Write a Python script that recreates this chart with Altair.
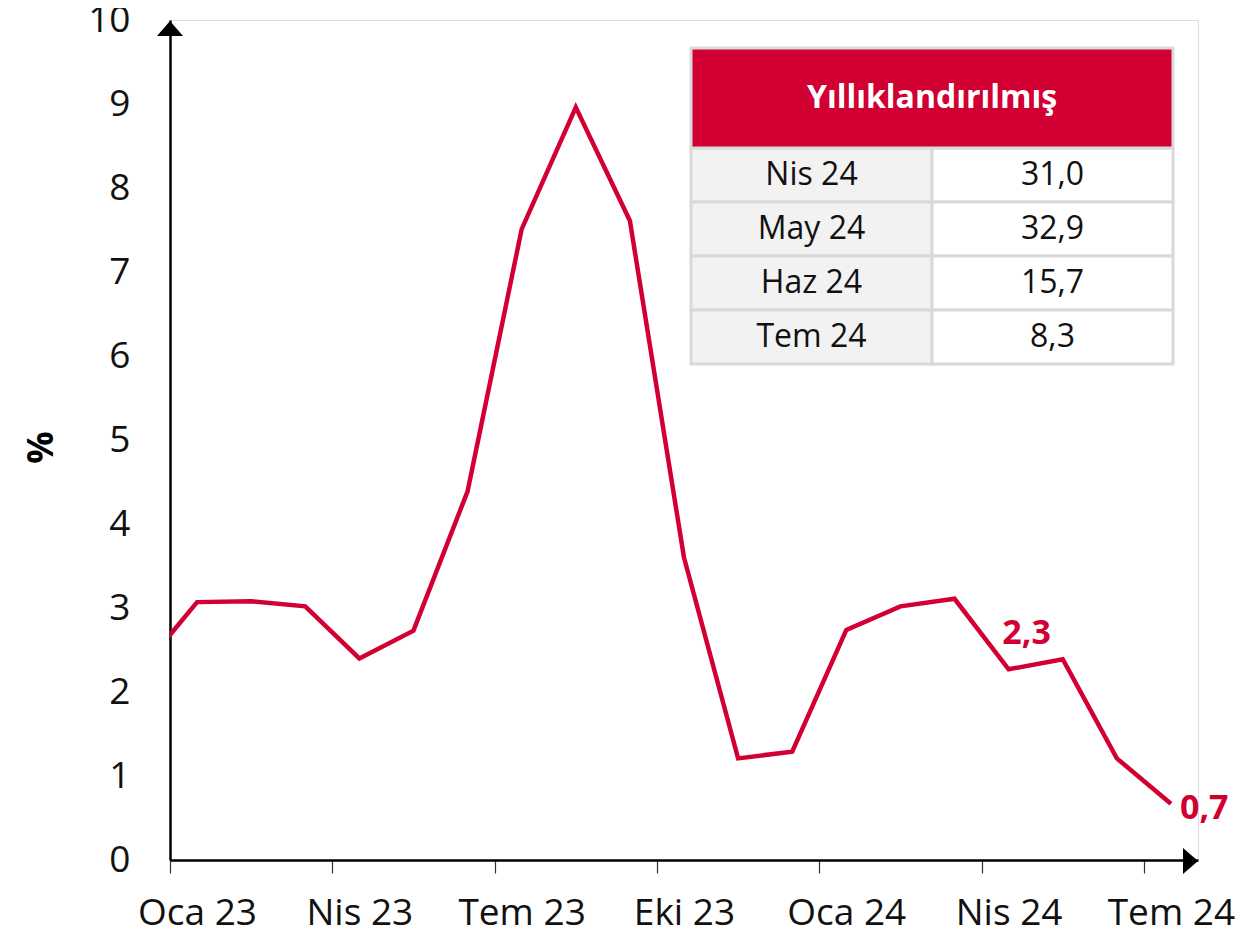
import json
import altair as alt
import pandas as pd

# ---------------- data ----------------
months = ["Ara 22", "Oca 23", "Şub 23", "Mar 23", "Nis 23", "May 23", "Haz 23",
          "Tem 23", "Ağu 23", "Eyl 23", "Eki 23", "Kas 23", "Ara 23", "Oca 24",
          "Şub 24", "Mar 24", "Nis 24", "May 24", "Haz 24", "Tem 24"]
values = [2.29, 3.07, 3.08, 3.02, 2.40, 2.73, 4.39, 7.51, 8.96, 7.61,
          3.60, 1.21, 1.29, 2.74, 3.02, 3.11, 2.27, 2.39, 1.21, 0.67]
x_tick_labels = ["Oca 23", "Nis 23", "Tem 23", "Eki 23", "Oca 24", "Nis 24", "Tem 24"]
y_ticks = list(range(0, 11))
label_above = ["Nis 24"]
label_right = ["Tem 24"]

table_title = "Yıllıklandırılmış"
table_months = ["Nis 24", "May 24", "Haz 24", "Tem 24"]
table_values = [31.0, 32.9, 15.7, 8.3]

RED = "#D20032"
FONT = "Open Sans"

df = pd.DataFrame({"month": months, "value": values})
df["idx"] = range(-1, len(months) - 1)   # Oca 23 -> 0

def tr(v):
    return f"{v:.1f}".replace(".", ",")

rows = []
for m, v in zip(table_months, table_values):
    rows.append({"row": m, "col": "label", "text": m})
    rows.append({"row": m, "col": "value", "text": tr(v)})
table_df = pd.DataFrame(rows)

W, H = 1028, 840
TOP = 12
tick_vals = [-0.5 + 3 * k for k in range(len(x_tick_labels))]
label_expr = f"{json.dumps(x_tick_labels, ensure_ascii=False)}[round((datum.value + 0.5) / 3)]"

X = alt.X("idx:Q",
          scale=alt.Scale(domain=[-0.5, 18.5], nice=False, zero=False),
          axis=alt.Axis(values=tick_vals, labelExpr=label_expr, title=None,
                        labelOffset=27, labelFlush=False, labelOverlap=False,
                        labelBound=False, tickSize=13, tickWidth=1.2,
                        tickColor="#333", domainColor="#000", domainWidth=2.5,
                        labelFontSize=37, labelColor="#111", labelPadding=22,
                        labelFont=FONT, grid=False))
Y = alt.Y("value:Q",
          scale=alt.Scale(domain=[0, 10], nice=False, zero=True),
          axis=alt.Axis(values=y_ticks, ticks=False, title="%",
                        titleFontSize=36, titleFontWeight="bold", titleColor="#000",
                        titleAngle=-90, titleBaseline="alphabetic", titleAlign="center",
                        titleX=-118, titleY=427, titleFont=FONT,
                        labelFontSize=37, labelColor="#111", labelPadding=40,
                        labelFont=FONT, labelFlush=False, domainColor="#000",
                        domainWidth=2.5, grid=False))

line = alt.Chart(df).mark_line(color=RED, strokeWidth=4.5, clip=True).encode(x=X, y=Y)

lab_fmt = "replace(format(datum.value, '.1f'), '.', ',')"
lab_above = alt.Chart(df).transform_filter(
    alt.FieldOneOfPredicate(field="month", oneOf=label_above)
).transform_calculate(lbl=lab_fmt).mark_text(
    color=RED, fontSize=34, fontWeight="bold", font=FONT, align="center",
    baseline="middle", dx=18, dy=-35
).encode(x=X, y=Y, text="lbl:N")

lab_right = alt.Chart(df).transform_filter(
    alt.FieldOneOfPredicate(field="month", oneOf=label_right)
).transform_calculate(lbl=lab_fmt).mark_text(
    color=RED, fontSize=34, fontWeight="bold", font=FONT, align="left",
    baseline="middle", dx=9, dy=5
).encode(x=X, y=Y, text="lbl:N")

one = pd.DataFrame({"a": [0]})
up_arrow = alt.Chart(one).mark_point(
    shape="M -1 0.577 L 0 -0.577 L 1 0.577 Z", filled=True, fill="#000",
    strokeWidth=0, size=676, opacity=1
).encode(x=alt.value(0), y=alt.value(8.5))
right_arrow = alt.Chart(one).mark_point(
    shape="M -0.577 -1 L 0.577 0 L -0.577 1 Z", filled=True, fill="#000",
    strokeWidth=0, size=676, opacity=1
).encode(x=alt.value(W - 7.5), y=alt.value(H + 1))

main = alt.layer(line, lab_above, lab_right, up_arrow, right_arrow)

# ---------------- table ----------------
T_LEFT, T_MID, T_RIGHT = 521, 762, 1003
T_TOP, T_HEAD, T_BOTTOM = 48 - 8 - TOP, 148 - 8 - TOP, 364 - 8 - TOP

TX = alt.X("col:N", scale=alt.Scale(domain=["label", "value"], range=[T_LEFT, T_RIGHT],
                                     paddingInner=0, paddingOuter=0), axis=None)
TY = alt.Y("row:N", scale=alt.Scale(domain=table_months, range=[T_HEAD, T_BOTTOM],
                                     paddingInner=0, paddingOuter=0), axis=None)

cells = alt.Chart(table_df).mark_rect(stroke="#d9d9d9", strokeWidth=3).encode(
    x=TX, y=TY,
    fill=alt.condition("datum.col == 'label'", alt.value("#f2f2f2"), alt.value("#ffffff"))
)
cell_text = alt.Chart(table_df).mark_text(fontSize=32, color="#111", font=FONT,
                                          baseline="middle").encode(x=TX, y=TY, text="text:N")
header = alt.Chart(one).mark_rect(fill=RED, stroke="#d9d9d9", strokeWidth=3).encode(
    x=alt.value(T_LEFT), x2=alt.value(T_RIGHT), y=alt.value(T_TOP), y2=alt.value(T_HEAD))
header_text = alt.Chart(one).mark_text(fontSize=32, fontWeight="bold", color="#ffffff",
                                       font=FONT, baseline="middle").encode(
    x=alt.value(T_MID), y=alt.value((T_TOP + T_HEAD) / 2), text=alt.value(table_title))

table = alt.layer(cells, cell_text, header, header_text)

chart = alt.layer(main, table).resolve_scale(
    x="independent", y="independent"
).properties(
    width=W, height=H,
    padding={"left": 162, "top": TOP, "right": 40, "bottom": 76},
    autosize=alt.AutoSizeParams(type="none")
).configure_view(stroke=None).configure(font=FONT)

chart.save("out.html", embed_options={"renderer": "svg", "actions": False})
